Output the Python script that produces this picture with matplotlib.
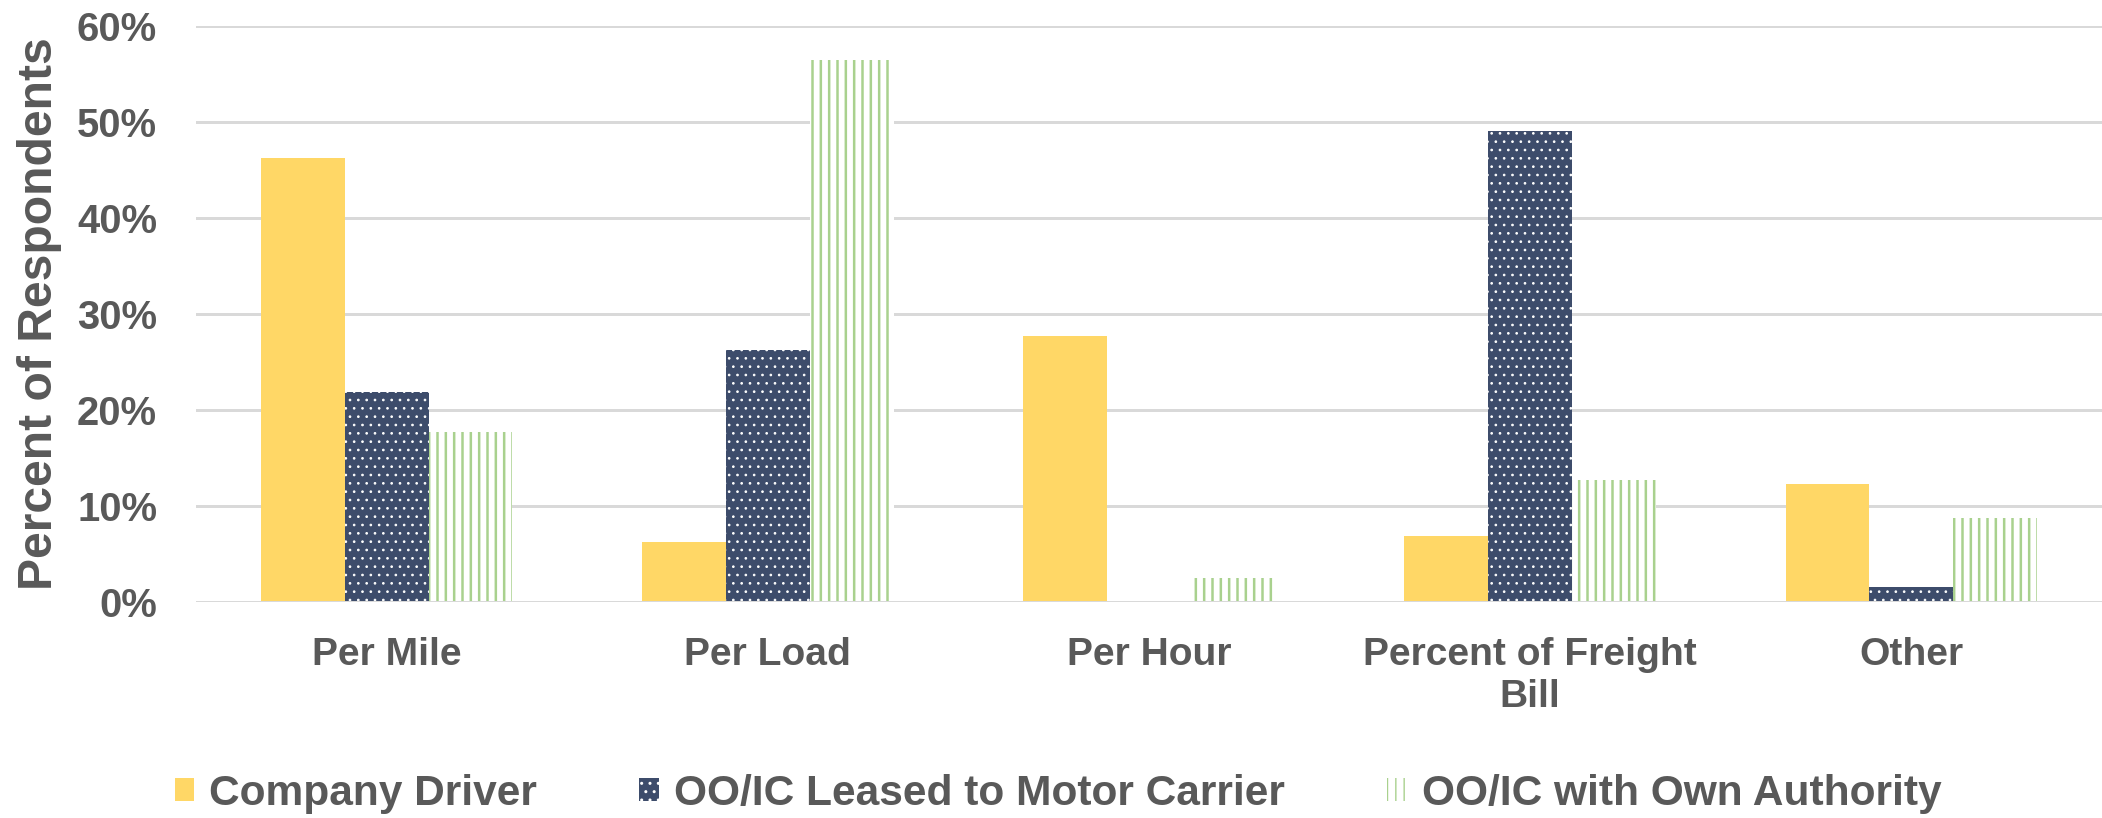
import matplotlib
matplotlib.use('Agg')
import matplotlib.pyplot as plt
import numpy as np
from matplotlib.ticker import PercentFormatter

# ---- data ----
categories = ['Per Mile', 'Per Load', 'Per Hour', 'Percent of Freight\nBill', 'Other']
series_names = ['Company Driver', 'OO/IC Leased to Motor Carrier', 'OO/IC with Own Authority']
company_driver = [46.2, 6.2, 27.7, 6.9, 12.3]
leased_to_carrier = [21.9, 26.2, 0.0, 49.1, 1.6]
own_authority = [17.7, 56.5, 2.5, 12.7, 8.8]
y_ticks = [0, 10, 20, 30, 40, 50, 60]

# ---- geometry / style ----
DPI = 100
W, H = 2102, 818


def pt(px):
    return px * 72.0 / DPI


TEXT = '#595959'
GRID = '#D9D9D9'
YELLOW = '#FFD766'
NAVY = '#3D4C6B'
GREEN = '#A9D18E'

plt.rcParams['font.family'] = ['Liberation Sans', 'DejaVu Sans']
plt.rcParams['font.weight'] = 'bold'

fig = plt.figure(figsize=(W / DPI, H / DPI), dpi=DPI)
ax = fig.add_axes([196 / W, 1 - 602 / H, 1 - 196 / W, (602 - 26) / H])

x = np.arange(len(categories))
bw = 0.22

b1 = ax.bar(x - bw, company_driver, bw, color=YELLOW, linewidth=0, zorder=2)
b2 = ax.bar(x, leased_to_carrier, bw, facecolor=NAVY, edgecolor='white',
            hatch='..', linewidth=0, zorder=2)
b3 = ax.bar(x + bw, own_authority, bw, facecolor='white', edgecolor=GREEN,
            hatch='||', linewidth=0, zorder=2)

for p in b2.patches:
    if hasattr(p, 'set_hatch_linewidth'):
        p.set_hatch_linewidth(0.7)
for p in b3.patches:
    if hasattr(p, 'set_hatch_linewidth'):
        p.set_hatch_linewidth(1.8)

ax.set_xlim(-0.5, len(categories) - 0.5)
ax.set_ylim(0, 60)
ax.set_yticks(y_ticks)
ax.yaxis.set_major_formatter(PercentFormatter(decimals=0))
ax.set_xticks(x)
ax.set_xticklabels(categories)

ax.tick_params(axis='y', length=0, pad=pt(39), labelsize=pt(40), labelcolor=TEXT)
ax.tick_params(axis='x', length=0, pad=pt(35), labelsize=pt(39), labelcolor=TEXT)

ax.yaxis.grid(True, color=GRID, linewidth=pt(3))
ax.set_axisbelow(True)
ax.axhline(0, color=GRID, linewidth=pt(3), zorder=3)
for s in ax.spines.values():
    s.set_visible(False)

fig.text(40 / W, 1 - 314 / H, 'Percent of Respondents', rotation=90,
         ha='center', va='center', fontsize=pt(48), color=TEXT, fontweight='bold')

leg = fig.legend([b1, b2, b3], series_names, loc='center',
                 bbox_to_anchor=(1058 / W, 1 - 794 / H), ncol=3, frameon=False,
                 prop={'size': pt(42.5), 'weight': 'bold'},
                 handlelength=0.46, handleheight=0.46, handletextpad=0.36,
                 columnspacing=2.4, labelcolor=TEXT)

fig.savefig('out.png', dpi=DPI, facecolor='white')
